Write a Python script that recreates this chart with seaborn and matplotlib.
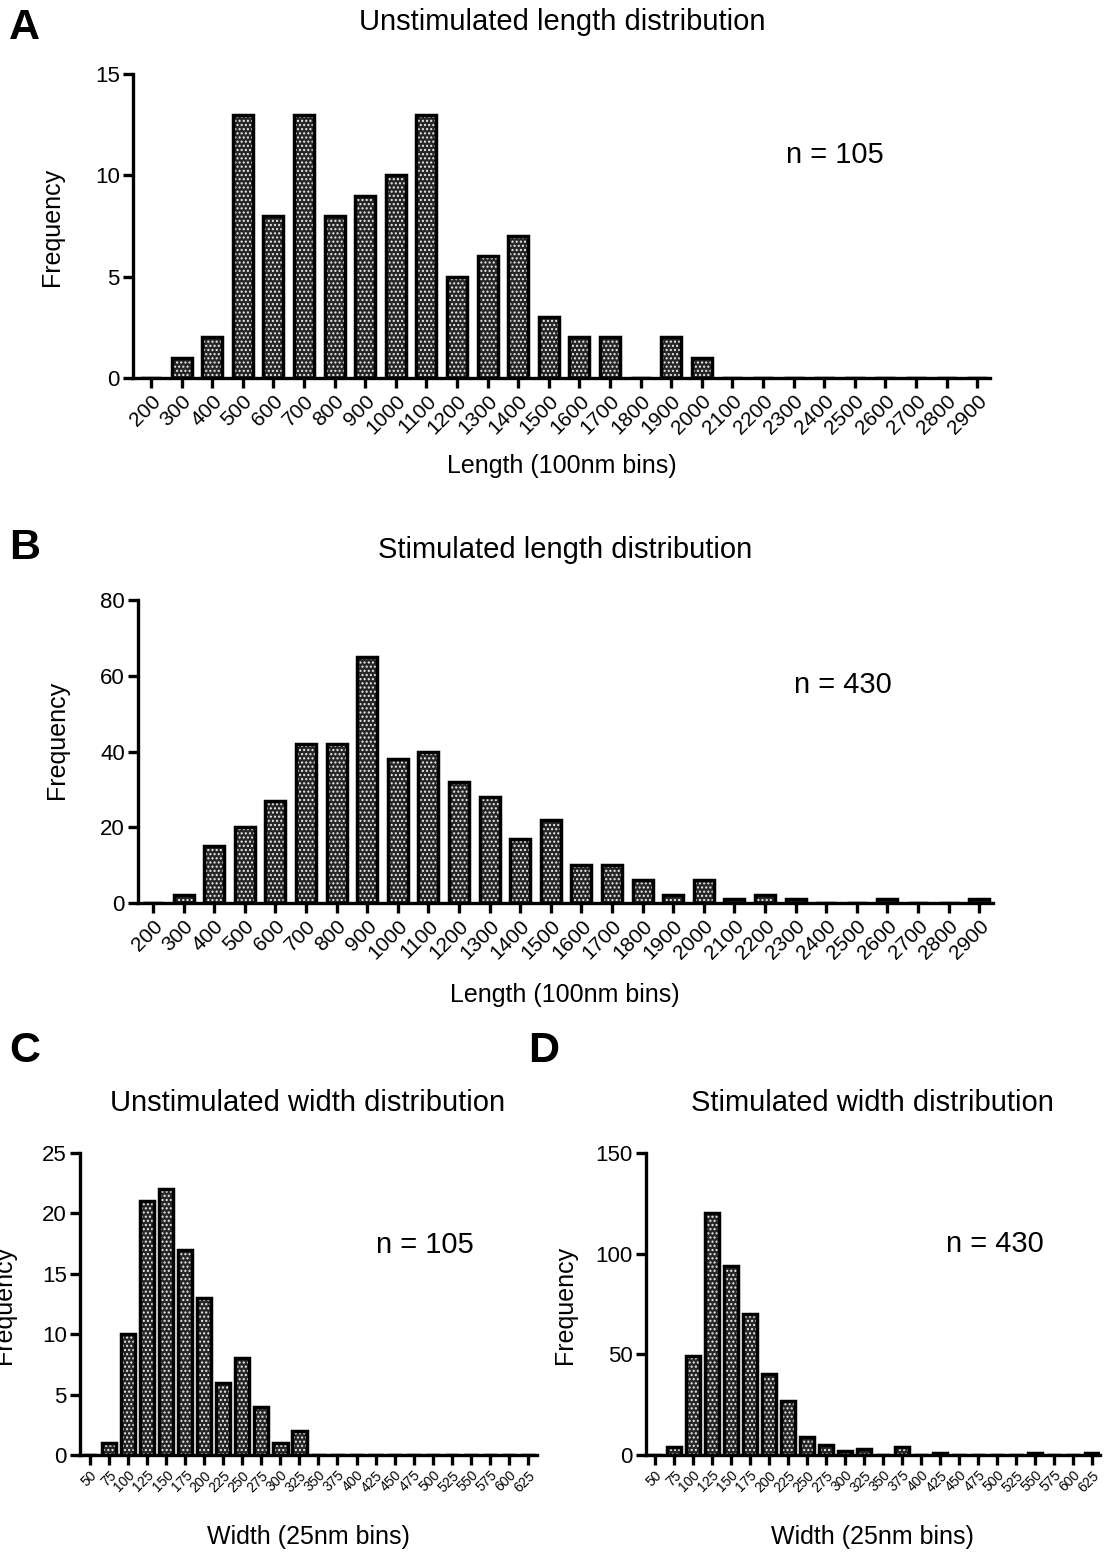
import matplotlib
matplotlib.use("Agg")
import matplotlib.pyplot as plt
from matplotlib.patches import Rectangle
import pandas as pd
import seaborn as sns

# Histogram bins and counts
length_bins = ["200", "300", "400", "500", "600", "700", "800", "900", "1000",
               "1100", "1200", "1300", "1400", "1500", "1600", "1700", "1800",
               "1900", "2000", "2100", "2200", "2300", "2400", "2500", "2600",
               "2700", "2800", "2900"]
unstim_length = [0, 1, 2, 13, 8, 13, 8, 9, 10, 13, 5, 6, 7, 3, 2, 2, 0, 2, 1,
                 0, 0, 0, 0, 0, 0, 0, 0, 0]
stim_length = [0, 2, 15, 20, 27, 42, 42, 65, 38, 40, 32, 28, 17, 22, 10, 10, 6,
               2, 6, 1, 2, 1, 0, 0, 1, 0, 0, 1]

width_bins = ["50", "75", "100", "125", "150", "175", "200", "225", "250",
              "275", "300", "325", "350", "375", "400", "425", "450", "475",
              "500", "525", "550", "575", "600", "625"]
unstim_width = [0, 1, 10, 21, 22, 17, 13, 6, 8, 4, 1, 2, 0, 0, 0, 0, 0, 0, 0,
                0, 0, 0, 0, 0]
stim_width = [0, 4, 49, 120, 94, 70, 40, 27, 9, 5, 2, 3, 0, 4, 0, 1, 0, 0, 0,
              0, 1, 0, 0, 1]

sns.set_theme(style="ticks")
plt.rcParams["font.family"] = ["Liberation Sans", "DejaVu Sans"]
plt.rcParams["text.color"] = "black"
plt.rcParams["axes.labelcolor"] = "black"
plt.rcParams["xtick.color"] = "black"
plt.rcParams["ytick.color"] = "black"
plt.rcParams["hatch.linewidth"] = 1.0

W, H = 1106, 1558
fig = plt.figure(figsize=(W / 100, H / 100), dpi=100)
fig.patch.set_facecolor("white")


def px_rect(left, top, right, bottom):
    return [left / W, 1 - bottom / H, (right - left) / W, (bottom - top) / H]


def draw_panel(ax, bins, counts, ymax, yticks, bar_w, xlim, xlab_size):
    df = pd.DataFrame({"bin": bins, "count": counts})
    sns.barplot(data=df, x="bin", y="count", order=bins, color="#262626",
                width=bar_w, errorbar=None, ax=ax)
    for p in list(ax.patches):
        p.set_facecolor("#262626")
        p.set_edgecolor("#eeeeee")
        p.set_linewidth(0)
        p.set_hatch("....")
        ax.add_patch(Rectangle(p.get_xy(), p.get_width(), p.get_height(),
                               fill=False, edgecolor="black", linewidth=2.5,
                               zorder=p.get_zorder() + 0.1))
    sns.despine(ax=ax)
    for side in ("left", "bottom"):
        ax.spines[side].set_linewidth(2.4)
        ax.spines[side].set_color("black")
    ax.set_xlim(*xlim)
    ax.set_ylim(0, ymax)
    ax.set_yticks(yticks)
    ax.set_yticklabels([str(t) for t in yticks], fontsize=16)
    ax.set_xticks(range(len(bins)))
    ax.set_xticklabels(bins, rotation=45, ha="right", va="top",
                       rotation_mode="anchor", fontsize=xlab_size)
    ax.tick_params(axis="both", direction="out", length=7.5, width=2.4,
                   color="black", labelcolor="black", pad=2)
    ax.set_xlabel("")
    ax.set_ylabel("")
    ax.set_facecolor("white")


axA = fig.add_axes(px_rect(133, 74, 990, 378))
draw_panel(axA, length_bins, unstim_length, 15, [0, 5, 10, 15], 0.65,
           (-0.59, 27.42), 15)
axB = fig.add_axes(px_rect(138, 600, 993, 903))
draw_panel(axB, length_bins, stim_length, 80, [0, 20, 40, 60, 80], 0.65,
           (-0.49, 27.45), 15)
axC = fig.add_axes(px_rect(80, 1153, 537, 1455))
draw_panel(axC, width_bins, unstim_width, 25, [0, 5, 10, 15, 20, 25], 0.75,
           (-0.525, 23.48), 10)
axD = fig.add_axes(px_rect(646, 1153, 1100, 1455))
draw_panel(axD, width_bins, stim_width, 150, [0, 50, 100, 150], 0.75,
           (-0.47, 23.42), 10)


def ftext(x, y, s, **kw):
    fig.text(x / W, 1 - y / H, s, color="black", **kw)


# Panel letters
for letter, x, y in [("A", 9, 28), ("B", 9, 548), ("C", 9, 1051), ("D", 528, 1051)]:
    ftext(x, y, letter, fontsize=31, fontweight="bold", ha="left", va="center")

# Titles
ftext(562, 22, "Unstimulated length distribution", fontsize=21, ha="center", va="center")
ftext(565, 550, "Stimulated length distribution", fontsize=21, ha="center", va="center")
ftext(308, 1103, "Unstimulated width distribution", fontsize=21, ha="center", va="center")
ftext(872, 1103, "Stimulated width distribution", fontsize=21, ha="center", va="center")

# Axis labels
ftext(562, 466, "Length (100nm bins)", fontsize=18, ha="center", va="center")
ftext(565, 995, "Length (100nm bins)", fontsize=18, ha="center", va="center")
ftext(308, 1537, "Width (25nm bins)", fontsize=18, ha="center", va="center")
ftext(872, 1537, "Width (25nm bins)", fontsize=18, ha="center", va="center")
for x, y in [(52, 227), (57, 740), (4, 1305), (565, 1305)]:
    ftext(x, y, "Frequency", fontsize=18, rotation=90, ha="center", va="center")

# Sample sizes
ftext(835, 155, "n = 105", fontsize=21, ha="center", va="center")
ftext(843, 685, "n = 430", fontsize=21, ha="center", va="center")
ftext(425, 1245, "n = 105", fontsize=21, ha="center", va="center")
ftext(995, 1244, "n = 430", fontsize=21, ha="center", va="center")

fig.savefig("out.png", dpi=100, facecolor="white")
